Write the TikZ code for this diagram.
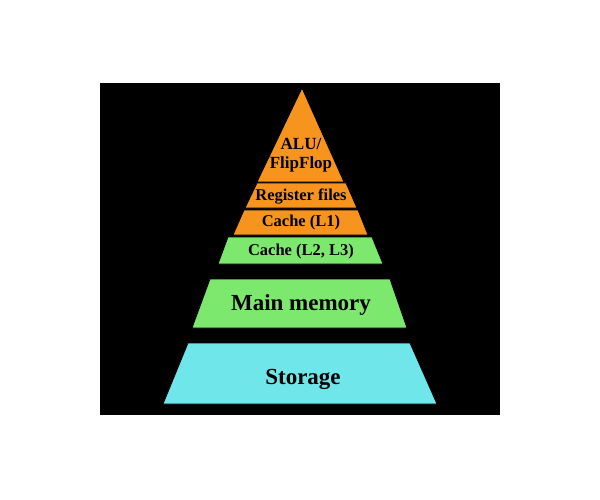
\documentclass[tikz,border=0pt]{standalone}
\usepackage{fontspec}
\setmainfont{Liberation Serif}
\definecolor{tierorange}{HTML}{F7941D}
\definecolor{tiergreen}{HTML}{7DE86E}
\definecolor{tiercyan}{HTML}{6FE6EA}
\begin{document}
\begin{tikzpicture}[x=1pt,y=-1pt,
		tier/.style={draw=black, line width=0.8pt},
		label/.style={font=\bfseries, text=black, align=center, inner sep=0pt}]
	\useasboundingbox (0,0) rectangle (600,500);
	\fill[white] (0,0) rectangle (600,500);
	\fill[black] (100,83) rectangle (500,415);
	
	% orange tiers
	\filldraw[tier, fill=tierorange] (302,88) -- (344,182) -- (257,182) -- cycle;
	\filldraw[tier, fill=tierorange] (257,183) -- (346,183) -- (357,208) -- (245,208) -- cycle;
	\filldraw[tier, fill=tierorange] (244,210) -- (358,210) -- (368,235) -- (233,235) -- cycle;
	
	% green tiers
	\filldraw[tier, fill=tiergreen] (228,237) -- (372,237) -- (383,264) -- (218,264) -- cycle;
	\filldraw[tier, fill=tiergreen] (210,279) -- (390,279) -- (407,328) -- (192,328) -- cycle;
	
	% cyan tier
	\filldraw[tier, fill=tiercyan] (188,343) -- (410,343) -- (437,404) -- (163,404) -- cycle;
	
	\node[label, font=\bfseries\fontsize{17}{19}\selectfont] (alu) at (301,155) {ALU/\\FlipFlop};
	\node[label, font=\bfseries\fontsize{16.5}{18}\selectfont] (regs) at (301,197) {Register files};
	\node[label, font=\bfseries\fontsize{16.5}{18}\selectfont] (l1) at (301,223) {Cache (L1)};
	\node[label, font=\bfseries\fontsize{16.5}{18}\selectfont] (l23) at (301,252) {Cache (L2, L3)};
	\node[label, font=\bfseries\fontsize{23}{25}\selectfont] (mem) at (301,305) {Main memory};
	\node[label, font=\bfseries\fontsize{23}{25}\selectfont] (store) at (303,379) {Storage};
\end{tikzpicture}
\end{document}
